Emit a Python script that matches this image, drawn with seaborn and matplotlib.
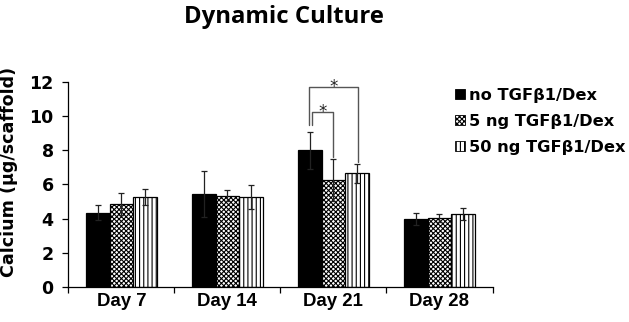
import matplotlib
matplotlib.use("Agg")
import matplotlib.pyplot as plt
import matplotlib.patches as mpatches
import seaborn as sns
import pandas as pd
import numpy as np

days = ["Day 7", "Day 14", "Day 21", "Day 28"]
groups = ["no TGFβ1/Dex", "5 ng TGFβ1/Dex", "50 ng TGFβ1/Dex"]
no_tgf = [4.35, 5.44, 8.00, 3.98]
ng5 = [4.86, 5.35, 6.25, 4.04]
ng50 = [5.27, 5.27, 6.65, 4.27]
err_no = [0.45, 1.35, 1.10, 0.35]
err_5 = [0.62, 0.31, 1.22, 0.23]
err_50 = [0.45, 0.70, 0.55, 0.37]

vals = [no_tgf, ng5, ng50]
errs = [err_no, err_5, err_50]

rows = []
for g, v in zip(groups, vals):
    for d, x in zip(days, v):
        rows.append({"day": d, "group": g, "value": x})
df = pd.DataFrame(rows)

sns.set_theme(style="white")
plt.rcParams['font.family'] = ['DejaVu Sans']
plt.rcParams['hatch.linewidth'] = 0.8
for k in ["text.color", "axes.labelcolor", "xtick.color", "ytick.color"]:
    plt.rcParams[k] = "black"

fig = plt.figure(figsize=(6.29, 3.22), dpi=100)
ax = fig.add_axes([0.1086, 0.1087, 0.6744, 0.6367])

sns.barplot(data=df, x="day", y="value", hue="group", order=days, hue_order=groups,
            palette=["black", "white", "white"], errorbar=None, width=0.667,
            edgecolor="black", linewidth=0.9, ax=ax, legend=False)

hatches = [None, "xxxxxxx", "||||"]
containers = list(ax.containers)
for ci, cont in enumerate(containers):
    xs = []
    for p in cont.patches:
        if hatches[ci]:
            p.set_hatch(hatches[ci])
        xs.append(p.get_x() + p.get_width() / 2)
    ax.errorbar(xs, vals[ci], yerr=errs[ci], fmt="none", ecolor="#222222",
                elinewidth=0.9, capsize=2.2, capthick=0.9, zorder=5)

ax.set_ylim(0, 12)
ax.set_xlim(-0.5, 3.5)
ax.set_yticks(range(0, 13, 2))
ax.tick_params(axis="y", labelsize=12.5, length=4.5, width=0.9, direction="out", left=True, pad=6,
               color="black", labelcolor="black")
ax.tick_params(axis="x", length=0, pad=4, labelcolor="black")
ax.set_xticks(range(4))
ax.set_xticklabels(days, fontweight="bold", fontsize=13.4, family=["Liberation Sans", "DejaVu Sans"])
for t in ax.get_yticklabels():
    t.set_fontweight("bold")
ax.set_xticks(np.arange(-0.5, 4.0, 1.0), minor=True)
ax.tick_params(axis="x", which="minor", length=4, width=0.9, bottom=True, direction="out", color="black")
ax.set_xlabel("")
ax.set_ylabel("Calcium (µg/scaffold)", fontsize=12.6, fontweight="bold", color="black")
ax.yaxis.set_label_coords(-0.119, 0.56)

for s in ["top", "right"]:
    ax.spines[s].set_visible(False)
for s in ["left", "bottom"]:
    ax.spines[s].set_color("black")
    ax.spines[s].set_linewidth(0.9)

p_no = containers[0].patches[2]
p_5 = containers[1].patches[2]
p_50 = containers[2].patches[2]
c = lambda p: p.get_x() + p.get_width() / 2
bc = "#555555"
x1, x2 = c(p_no) - 0.01, c(p_50) + 0.01
ax.plot([x1, x1, x2, x2], [9.48, 11.69, 11.69, 7.32], color=bc, lw=1.0, clip_on=False)
ax.text((x1 + x2) / 2, 11.72, "*", ha="center", va="center", fontsize=12, color="#222222", clip_on=False)
x1, x2 = c(p_no) + 0.02, c(p_5)
ax.plot([x1, x1, x2, x2], [9.48, 10.23, 10.23, 7.63], color=bc, lw=1.0, clip_on=False)
ax.text((x1 + x2) / 2, 10.27, "*", ha="center", va="center", fontsize=12, color="#222222", clip_on=False)

handles = [mpatches.Patch(facecolor="black", edgecolor="black", linewidth=0.6),
           mpatches.Patch(facecolor="white", edgecolor="black", hatch="xxxxxxx", linewidth=0.6),
           mpatches.Patch(facecolor="white", edgecolor="black", hatch="||||", linewidth=0.6)]
fig.legend(handles, groups, loc="upper left", bbox_to_anchor=(0.7234, 0.728), frameon=False,
           prop={"size": 11.7, "weight": "bold"}, handlelength=0.62, handleheight=0.62,
           handletextpad=0.25, labelspacing=0.68, borderaxespad=0, borderpad=0,
           labelcolor="black")

fig.text(0.4515, 0.9295, "Dynamic Culture", ha="center", va="baseline", fontsize=17.2,
         fontweight="bold", color="black", family=["Open Sans", "DejaVu Sans"])

fig.savefig("out.png", dpi=100)
